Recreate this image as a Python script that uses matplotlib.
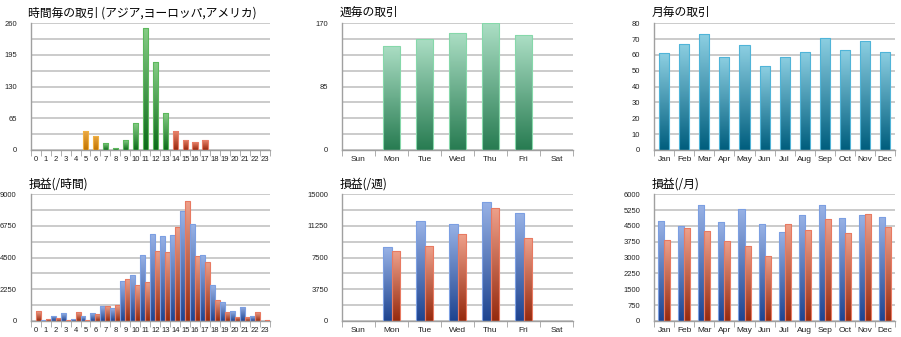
import numpy as np
import matplotlib
matplotlib.use("Agg")
from matplotlib import pyplot as plt
from matplotlib.colors import LinearSegmentedColormap
from matplotlib.patches import Rectangle
from matplotlib.ticker import MultipleLocator

plt.rcParams['font.family'] = ['Noto Sans CJK JP', 'DejaVu Sans']

hours = list(range(24))
hour_trades = [0, 0, 0, 0, 0, 38, 29, 14, 4, 20, 55, 250, 180, 75, 38, 21, 16, 20, 0, 0, 0, 0, 0, 0]
hour_pl_a = [30, 50, 380, 540, 140, 355, 545, 1040, 900, 2830, 3300, 4720, 6200, 6065, 6110, 7810,
             6870, 4720, 2525, 1345, 685, 1015, 355, 25]
hour_pl_b = [700, 120, 210, 95, 615, 95, 470, 1040, 1110, 2975, 2550, 2760, 4960, 4890, 6680, 8500,
             4600, 4225, 1510, 660, 307, 260, 615, 95]

days = ['Sun', 'Mon', 'Tue', 'Wed', 'Thu', 'Fri', 'Sat']
day_trades = [0, 140, 149, 157, 170, 154, 0]
day_pl_a = [0, 8740, 11810, 11500, 14090, 12800, 0]
day_pl_b = [0, 8270, 8820, 10240, 13350, 9800, 0]

months = ['Jan', 'Feb', 'Mar', 'Apr', 'May', 'Jun', 'Jul', 'Aug', 'Sep', 'Oct', 'Nov', 'Dec']
month_trades = [61, 67, 73, 59, 66, 53, 59, 62, 71, 63, 69, 62]
month_pl_a = [4740, 4500, 5510, 4710, 5320, 4570, 4220, 5040, 5470, 4880, 5020, 4930]
month_pl_b = [3830, 4390, 4250, 3810, 3560, 3100, 4580, 4330, 4840, 4160, 5070, 4470]

GREEN = ('#86cc86', '#0c6a1a', '#5cb85c')
ORANGE = ('#eaa845', '#c27400', '#f0b040')
RED = ('#e8846c', '#98260c', '#e87c66')
MINT = ('#abdec4', '#287c52', '#86d8aa')
TEAL = ('#8ccfe2', '#005e7e', '#50b4d8')
BLUE = ('#98b2e6', '#1e4490', '#7c9fe2')
SALMON = ('#eea08a', '#962a0e', '#e87a62')


def grad_bar(ax, x, h, w, style):
    top, bottom, edge = style
    if h <= 0:
        return
    cmap = LinearSegmentedColormap.from_list('g', [bottom, top])
    rect = Rectangle((x - w / 2, 0), w, h, facecolor='none', edgecolor=edge, lw=0.8, zorder=3)
    ax.add_patch(rect)
    im = ax.imshow(np.linspace(0, 1, 64).reshape(-1, 1), cmap=cmap, origin='lower',
                   extent=(x - w / 2, x + w / 2, 0, h), aspect='auto', zorder=2,
                   interpolation='bilinear')
    im.set_clip_path(rect)


def setup(ax, labels, ymax, major, minor, title, xsize=6):
    n = len(labels)
    ax.set_xlim(-0.5, n - 0.5)
    ax.set_ylim(0, ymax)
    ax.set_xticks(range(n))
    ax.set_xticklabels(labels, family='Liberation Sans', size=xsize)
    ax.set_xticks(np.arange(-0.5, n), minor=True)
    ax.tick_params(axis='x', which='major', length=0, pad=4, colors='#222222')
    ax.tick_params(axis='x', which='minor', length=4, color='#a0a0a0', direction='out')
    ax.yaxis.set_major_locator(MultipleLocator(major))
    ax.yaxis.set_minor_locator(MultipleLocator(minor))
    ax.tick_params(axis='y', which='both', length=0, pad=10, colors='#222222')
    for lab in ax.get_yticklabels():
        lab.set_fontfamily('Liberation Sans')
        lab.set_fontsize(5.5)
    ax.grid(axis='y', which='both', color='#bdbdbd', lw=1.1, zorder=0)
    ax.set_axisbelow(True)
    for s in ('top', 'right'):
        ax.spines[s].set_visible(False)
    for s in ('left', 'bottom'):
        ax.spines[s].set_color('#a0a0a0')
        ax.spines[s].set_linewidth(1.0)
    ax.set_title(title, loc='left', fontsize=8.5, pad=5, x=-0.01)


fig = plt.figure(figsize=(9.01, 3.37), dpi=100)
xs = [0.034, 0.3796, 0.726]
ws = [0.2657, 0.2564, 0.2675]
top_y, bot_y, h = 0.555, 0.0475, 0.376

# hourly trades
ax = fig.add_axes([xs[0], top_y, ws[0], h])
for i, v in enumerate(hour_trades):
    style = ORANGE if i < 7 else (GREEN if i < 14 else RED)
    grad_bar(ax, i, v, 0.55, style)
setup(ax, [str(x) for x in hours], 260, 65, 32.5, '時間毎の取引 (アジア,ヨーロッパ,アメリカ)', 5.5)

# weekly trades
ax = fig.add_axes([xs[1], top_y, ws[1], h])
for i, v in enumerate(day_trades):
    grad_bar(ax, i, v, 0.5, MINT)
setup(ax, days, 170, 85, 21.25, '週毎の取引')

# monthly trades
ax = fig.add_axes([xs[2], top_y, ws[2], h])
for i, v in enumerate(month_trades):
    grad_bar(ax, i, v, 0.5, TEAL)
setup(ax, months, 80, 10, 10, '月毎の取引')

# hourly P/L
ax = fig.add_axes([xs[0], bot_y, ws[0], h])
for i in hours:
    grad_bar(ax, i - 0.25, hour_pl_a[i], 0.5, BLUE)
    grad_bar(ax, i + 0.25, hour_pl_b[i], 0.5, SALMON)
setup(ax, [str(x) for x in hours], 9000, 2250, 1125, '損益(/時間)', 5.5)

# weekly P/L
ax = fig.add_axes([xs[1], bot_y, ws[1], h])
for i in range(len(days)):
    grad_bar(ax, i - 0.135, day_pl_a[i], 0.27, BLUE)
    grad_bar(ax, i + 0.135, day_pl_b[i], 0.27, SALMON)
setup(ax, days, 15000, 3750, 1875, '損益(/週)')

# monthly P/L
ax = fig.add_axes([xs[2], bot_y, ws[2], h])
for i in range(len(months)):
    grad_bar(ax, i - 0.15, month_pl_a[i], 0.3, BLUE)
    grad_bar(ax, i + 0.15, month_pl_b[i], 0.3, SALMON)
setup(ax, months, 6000, 750, 750, '損益(/月)')

fig.savefig('out.png', dpi=100, facecolor='white')
